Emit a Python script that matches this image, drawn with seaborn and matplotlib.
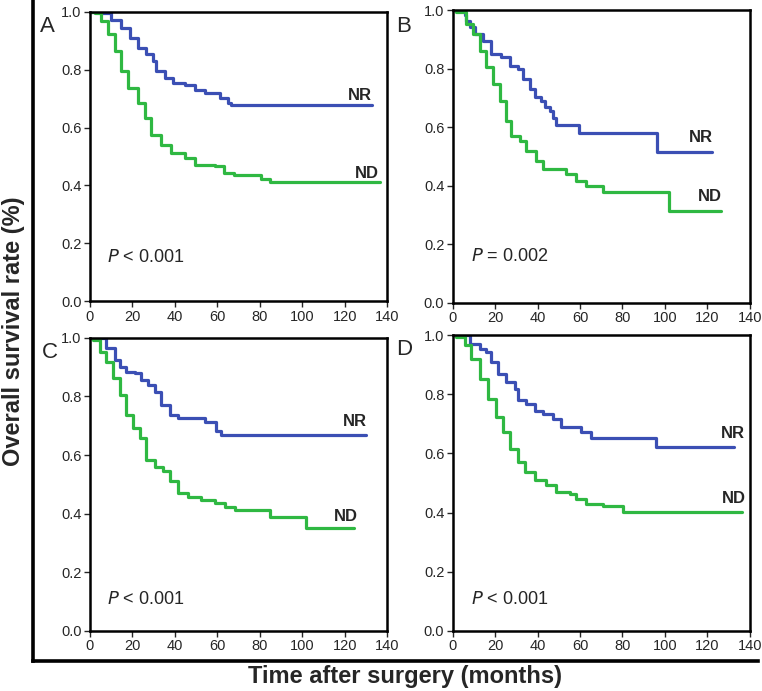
import numpy as np
import pandas as pd
import seaborn as sns
import matplotlib.pyplot as plt

# Kaplan-Meier curves (NR vs ND) for four cohorts

a_nr_t = [0, 5.3, 10.1, 14.8, 18.7, 22.6, 26.6, 29.7, 31.3, 35.2, 39.1, 44.6, 49.3, 54.0, 61.1, 65.0, 66.6, 132.9]
a_nr_s = [1.0, 0.997, 0.973, 0.945, 0.91, 0.876, 0.853, 0.83, 0.795, 0.772, 0.755, 0.746, 0.731, 0.72, 0.703, 0.685, 0.678, 0.678]
a_nd_t = [0, 2.2, 5.3, 8.5, 11.6, 14.8, 17.9, 22.6, 25.8, 28.9, 33.6, 38.3, 44.6, 49.3, 58.7, 63.4, 68.1, 80.8, 84.7, 136.8]
a_nd_s = [1.0, 0.997, 0.968, 0.922, 0.864, 0.795, 0.737, 0.686, 0.634, 0.576, 0.541, 0.512, 0.495, 0.472, 0.466, 0.443, 0.437, 0.423, 0.411, 0.411]

b_nr_t = [0, 5.6, 6.1, 8.0, 10.4, 14.3, 18.2, 22.9, 26.9, 30.8, 33.2, 36.3, 38.7, 41.8, 43.4, 45.7, 47.3, 48.9, 59.6, 96.3, 122.4]
b_nr_s = [1.0, 0.985, 0.965, 0.942, 0.919, 0.896, 0.851, 0.839, 0.81, 0.799, 0.765, 0.731, 0.702, 0.691, 0.668, 0.656, 0.633, 0.608, 0.581, 0.517, 0.517]
b_nd_t = [0, 1.7, 6.4, 9.6, 12.7, 15.9, 19.0, 22.2, 25.3, 27.7, 31.6, 34.7, 39.4, 42.6, 53.6, 58.3, 63.0, 70.9, 101.7, 126.4]
b_nd_s = [1.0, 0.993, 0.953, 0.919, 0.862, 0.805, 0.748, 0.691, 0.622, 0.571, 0.554, 0.519, 0.485, 0.457, 0.44, 0.417, 0.4, 0.377, 0.314, 0.314]

c_nr_t = [0, 4.6, 7.7, 11.6, 14.0, 17.1, 21.1, 24.2, 27.3, 30.5, 33.6, 37.5, 41.5, 54.0, 59.6, 61.9, 130]
c_nr_s = [1.0, 0.999, 0.965, 0.925, 0.902, 0.885, 0.88, 0.857, 0.839, 0.817, 0.771, 0.737, 0.726, 0.712, 0.681, 0.669, 0.669]
c_nd_t = [0, 1.4, 4.6, 7.7, 10.8, 14.0, 17.1, 20.3, 23.4, 26.6, 30.5, 34.4, 37.5, 41.5, 46.2, 52.5, 58.8, 63.5, 68.2, 84.7, 101.9, 124.4]
c_nd_s = [1.0, 0.993, 0.953, 0.919, 0.862, 0.805, 0.737, 0.692, 0.658, 0.584, 0.561, 0.544, 0.51, 0.47, 0.458, 0.447, 0.436, 0.424, 0.413, 0.39, 0.352, 0.352]

d_nr_t = [0, 3.3, 8.0, 12.7, 15.9, 18.2, 21.4, 25.3, 29.3, 30.8, 34.7, 38.7, 42.6, 47.3, 51.2, 60.6, 65.4, 96.0, 132.6]
d_nr_s = [1.0, 0.999, 0.971, 0.954, 0.943, 0.909, 0.869, 0.841, 0.818, 0.779, 0.768, 0.745, 0.734, 0.717, 0.689, 0.672, 0.652, 0.621, 0.621]
d_nd_t = [0, 1.7, 5.7, 8.8, 12.7, 16.7, 20.6, 23.7, 26.9, 30.8, 33.9, 38.7, 44.2, 48.9, 55.2, 58.3, 63.0, 70.9, 80.3, 136.2]
d_nd_s = [1.0, 0.993, 0.965, 0.92, 0.852, 0.785, 0.723, 0.672, 0.616, 0.571, 0.537, 0.509, 0.492, 0.469, 0.464, 0.447, 0.43, 0.422, 0.402, 0.402]

panel_letters = ["A", "B", "C", "D"]
p_labels = ["< 0.001", "= 0.002", "< 0.001", "< 0.001"]
x_ticks = [0, 20, 40, 60, 80, 100, 120, 140]
y_ticks = [0.0, 0.2, 0.4, 0.6, 0.8, 1.0]

curves = [
    (a_nr_t, a_nr_s, a_nd_t, a_nd_s),
    (b_nr_t, b_nr_s, b_nd_t, b_nd_s),
    (c_nr_t, c_nr_s, c_nd_t, c_nd_s),
    (d_nr_t, d_nr_s, d_nd_t, d_nd_s),
]

# label placement (data coords)
nr_pos = [(133, 0.71), (122.6, 0.565), (130.6, 0.713), (137.6, 0.669)]
nd_pos = [(136, 0.443), (127, 0.363), (126, 0.389), (138, 0.446)]
p_pos = [(8, 0.15), (8.5, 0.158), (8, 0.106), (8.5, 0.105)]

# axes rectangles [left, bottom, width, height] in figure fraction
rects = [
    [0.118, 0.564, 0.390, 0.419],
    [0.594, 0.562, 0.390, 0.423],
    [0.118, 0.087, 0.390, 0.424],
    [0.594, 0.087, 0.390, 0.428],
]
letter_pos = [(0.052, 0.962), (0.520, 0.962), (0.055, 0.490), (0.520, 0.494)]

blue = "#3b4fb4"
green = "#2fb842"

sns.set_style("white")
plt.rcParams['font.family'] = ['Liberation Sans', 'DejaVu Sans']

fig = plt.figure(figsize=(7.62, 6.91), dpi=100)

# outer L-shaped frame carrying the shared axis titles
bg = fig.add_axes([0.0433, 0.0434, 0.951, 0.957])
bg.set_facecolor("none")
bg.set_xticks([])
bg.set_yticks([])
for side in ["top", "right"]:
    bg.spines[side].set_visible(False)
for side in ["left", "bottom"]:
    bg.spines[side].set_linewidth(2.6)
    bg.spines[side].set_color("black")
fig.text(0.018, 0.52, "Overall survival rate (%)", rotation=90, ha="center", va="center",
         fontsize=17, fontweight="bold")
fig.text(0.532, 0.021, "Time after surgery (months)", ha="center", va="center",
         fontsize=17, fontweight="bold")

for i, (nr_t, nr_s, nd_t, nd_s) in enumerate(curves):
    ax = fig.add_axes(rects[i])
    df = pd.concat([
        pd.DataFrame({"time": nr_t, "surv": nr_s, "group": "NR"}),
        pd.DataFrame({"time": nd_t, "surv": nd_s, "group": "ND"}),
    ])
    sns.lineplot(data=df, x="time", y="surv", hue="group", palette={"NR": blue, "ND": green},
                 estimator=None, drawstyle="steps-post", linewidth=2.3, legend=False, ax=ax)
    ax.set_xlim(0, 140)
    ax.set_ylim(0, 1.0)
    ax.set_xticks(x_ticks)
    ax.set_yticks(y_ticks)
    ax.set_xticklabels([str(t) for t in x_ticks])
    ax.set_yticklabels([f"{t:.1f}" for t in y_ticks])
    ax.set_xlabel("")
    ax.set_ylabel("")
    ax.tick_params(direction="out", length=4, width=1, labelsize=10.5, pad=2,
                   bottom=True, left=True)
    for sp in ax.spines.values():
        sp.set_linewidth(1.8)
        sp.set_color("black")
    ax.text(*nr_pos[i], "NR", ha="right", va="center", fontsize=12, fontweight="bold")
    ax.text(*nd_pos[i], "ND", ha="right", va="center", fontsize=12, fontweight="bold")
    ax.text(*p_pos[i], "$\\mathit{P}$" + " " + p_labels[i], ha="left", va="center", fontsize=13)
    fig.text(*letter_pos[i], panel_letters[i], fontsize=16, ha="left", va="center")

fig.savefig("out.png", dpi=100)
